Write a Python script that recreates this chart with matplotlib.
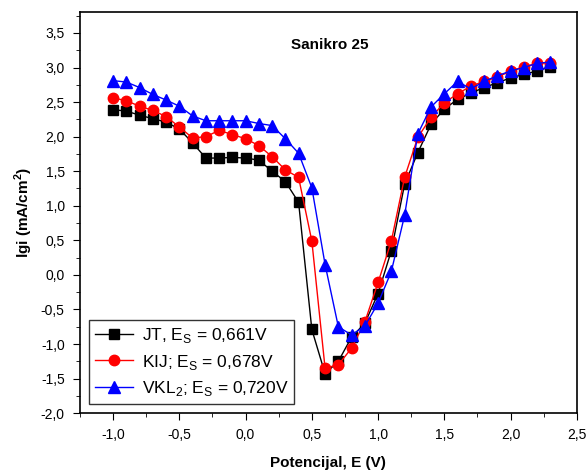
import matplotlib
matplotlib.use("Agg")
import matplotlib.pyplot as plt
from matplotlib.ticker import MultipleLocator, FuncFormatter

plt.rcParams['font.family'] = ['Liberation Sans', 'DejaVu Sans']

# Potential, V
E = [-1.0, -0.9, -0.8, -0.7, -0.6, -0.5, -0.4, -0.3, -0.2, -0.1, 0.0, 0.1,
     0.2, 0.3, 0.4, 0.5, 0.6, 0.7, 0.8, 0.9, 1.0, 1.1, 1.2, 1.3, 1.4, 1.5,
     1.6, 1.7, 1.8, 1.9, 2.0, 2.1, 2.2, 2.3]

jt = [2.39, 2.37, 2.31, 2.26, 2.21, 2.11, 1.91, 1.69, 1.69, 1.70, 1.69, 1.66,
      1.50, 1.35, 1.05, -0.79, -1.43, -1.25, -0.90, -0.70, -0.27, 0.35, 1.31, 1.77,
      2.18, 2.40, 2.54, 2.63, 2.71, 2.78, 2.85, 2.90, 2.95, 3.01]

kij = [2.56, 2.52, 2.44, 2.38, 2.29, 2.14, 1.98, 2.00, 2.09, 2.03, 1.97, 1.87,
       1.71, 1.52, 1.41, 0.49, -1.35, -1.30, -1.06, -0.68, -0.11, 0.49, 1.41, 1.99,
       2.28, 2.49, 2.62, 2.73, 2.80, 2.86, 2.95, 3.01, 3.06, 3.07]

vkl2 = [2.81, 2.79, 2.71, 2.61, 2.53, 2.44, 2.30, 2.23, 2.23, 2.23, 2.23, 2.19,
        2.16, 1.97, 1.76, 1.26, 0.15, -0.75, -0.87, -0.74, -0.41, 0.05, 0.86, 2.04,
        2.43, 2.62, 2.80, 2.69, 2.80, 2.88, 2.95, 3.00, 3.06, 3.08]

labels = ['JT, E$_\\mathregular{S}$ = 0,661V',
          'KIJ; E$_\\mathregular{S}$ = 0,678V',
          'VKL$_\\mathregular{2}$; E$_\\mathregular{S}$ = 0,720V']

fig = plt.figure(figsize=(5.88, 4.70), dpi=100)
ax = fig.add_axes([0.136, 0.121, 0.845, 0.853])

ax.plot(E, jt, color='black', marker='s', markersize=6.5, linewidth=1, label=labels[0])
ax.plot(E, kij, color='red', marker='o', markersize=7.5, linewidth=1, label=labels[1])
ax.plot(E, vkl2, color='blue', marker='^', markersize=8, linewidth=1, label=labels[2])

ax.set_xlim(-1.25, 2.5)
ax.set_ylim(-2.0, 3.8)
ax.xaxis.set_major_locator(MultipleLocator(0.5))
ax.xaxis.set_minor_locator(MultipleLocator(0.25))
ax.yaxis.set_major_locator(MultipleLocator(0.5))
ax.yaxis.set_minor_locator(MultipleLocator(0.25))
comma = FuncFormatter(lambda v, p: ('%.1f' % v).replace('.', ','))
ax.xaxis.set_major_formatter(comma)
ax.yaxis.set_major_formatter(comma)
ax.tick_params(which='both', direction='out', top=False, right=False, labelsize=10)
ax.tick_params(which='major', length=5, pad=6)
ax.tick_params(which='minor', length=3)
for s in ax.spines.values():
    s.set_linewidth(1.2)

ax.set_xlabel('Potencijal, E (V)', fontsize=11, fontweight='bold', labelpad=10)
ax.set_ylabel('lgi (mA/cm$^\\mathregular{2}$)', fontsize=11, fontweight='bold')
ax.text(0.503, 0.918, 'Sanikro 25', transform=ax.transAxes, fontsize=11,
        fontweight='bold', ha='center', va='center')

leg = ax.legend(loc='lower left', fontsize=12.5, frameon=True, fancybox=False,
                edgecolor='black', borderaxespad=0.5, handlelength=2.2,
                handletextpad=0.5, labelspacing=0.45, borderpad=0.35)
leg.get_frame().set_linewidth(1)

fig.savefig('out.png', dpi=100)
